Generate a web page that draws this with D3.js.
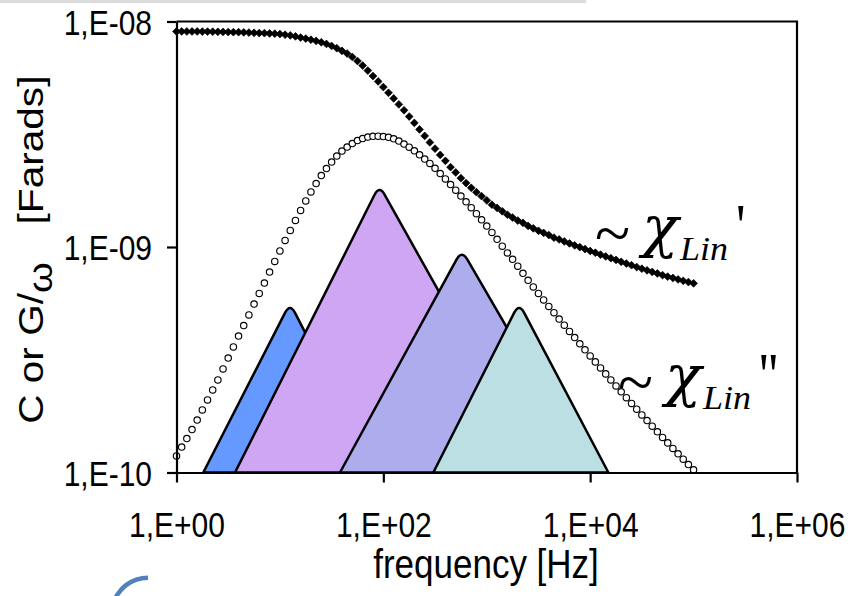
<!DOCTYPE html>
<html>
<head>
<meta charset="utf-8">
<script src="https://cdn.jsdelivr.net/npm/d3@7"></script>
<style>
  html, body { margin: 0; padding: 0; background: #fff; }
  svg { display: block; }
</style>
</head>
<body>
<svg id="chart" width="852" height="596"></svg>
<script>
// Measurement frequencies (20 points per decade, 1 Hz to 100 kHz)
const freqHz = [
  1, 1.122, 1.259, 1.413, 1.585, 1.778, 1.995, 2.239, 2.512, 2.818,
  3.162, 3.548, 3.981, 4.467, 5.012, 5.623, 6.310, 7.079, 7.943, 8.913,
  10, 11.22, 12.59, 14.13, 15.85, 17.78, 19.95, 22.39, 25.12, 28.18,
  31.62, 35.48, 39.81, 44.67, 50.12, 56.23, 63.10, 70.79, 79.43, 89.13,
  100, 112.2, 125.9, 141.3, 158.5, 177.8, 199.5, 223.9, 251.2, 281.8,
  316.2, 354.8, 398.1, 446.7, 501.2, 562.3, 631.0, 707.9, 794.3, 891.3,
  1000, 1122, 1259, 1413, 1585, 1778, 1995, 2239, 2512, 2818,
  3162, 3548, 3981, 4467, 5012, 5623, 6310, 7079, 7943, 8913,
  10000, 11220, 12590, 14130, 15850, 17780, 19950, 22390, 25120, 28180,
  31620, 35480, 39810, 44670, 50120, 56230, 63100, 70790, 79430, 89130,
  100000
];

// Capacitance C (~ chi_Lin'), Farads
const capacitanceC = [
  9.03e-9, 9.03e-9, 9.03e-9, 9.03e-9, 9.03e-9, 9.02e-9, 9.02e-9, 9.01e-9, 9.00e-9, 8.99e-9,
  8.98e-9, 8.97e-9, 8.97e-9, 8.95e-9, 8.93e-9, 8.91e-9, 8.89e-9, 8.88e-9, 8.85e-9, 8.83e-9,
  8.80e-9, 8.74e-9, 8.67e-9, 8.59e-9, 8.49e-9, 8.40e-9, 8.30e-9, 8.20e-9, 8.09e-9, 7.95e-9,
  7.79e-9, 7.61e-9, 7.41e-9, 7.21e-9, 6.96e-9, 6.68e-9, 6.38e-9, 6.06e-9, 5.73e-9, 5.42e-9,
  5.12e-9, 4.83e-9, 4.56e-9, 4.29e-9, 4.04e-9, 3.79e-9, 3.55e-9, 3.32e-9, 3.11e-9, 2.91e-9,
  2.73e-9, 2.56e-9, 2.41e-9, 2.26e-9, 2.14e-9, 2.02e-9, 1.92e-9, 1.83e-9, 1.75e-9, 1.68e-9,
  1.61e-9, 1.54e-9, 1.49e-9, 1.44e-9, 1.39e-9, 1.35e-9, 1.31e-9, 1.28e-9, 1.24e-9, 1.21e-9,
  1.18e-9, 1.155e-9, 1.13e-9, 1.10e-9, 1.08e-9, 1.058e-9, 1.037e-9, 1.017e-9, 9.98e-10, 9.79e-10,
  9.60e-10, 9.43e-10, 9.25e-10, 9.08e-10, 8.92e-10, 8.76e-10, 8.60e-10, 8.44e-10, 8.30e-10, 8.15e-10,
  8.01e-10, 7.88e-10, 7.75e-10, 7.63e-10, 7.50e-10, 7.39e-10, 7.29e-10, 7.18e-10, 7.08e-10, 6.99e-10,
  6.90e-10
];

// Conductance over angular frequency G/omega (~ chi_Lin''), Farads
const conductanceGw = [
  1.184e-10, 1.297e-10, 1.415e-10, 1.551e-10, 1.709e-10, 1.894e-10, 2.097e-10, 2.322e-10, 2.572e-10, 2.878e-10,
  3.219e-10, 3.602e-10, 4.030e-10, 4.486e-10, 4.994e-10, 5.587e-10, 6.221e-10, 6.923e-10, 7.747e-10, 8.626e-10,
  9.600e-10, 1.069e-9, 1.184e-9, 1.311e-9, 1.452e-9, 1.600e-9, 1.754e-9, 1.912e-9, 2.075e-9, 2.229e-9,
  2.381e-9, 2.532e-9, 2.665e-9, 2.776e-9, 2.877e-9, 2.966e-9, 3.027e-9, 3.074e-9, 3.096e-9, 3.099e-9,
  3.090e-9, 3.065e-9, 3.018e-9, 2.951e-9, 2.862e-9, 2.770e-9, 2.670e-9, 2.563e-9, 2.456e-9, 2.348e-9,
  2.234e-9, 2.118e-9, 2.003e-9, 1.893e-9, 1.786e-9, 1.683e-9, 1.587e-9, 1.494e-9, 1.405e-9, 1.320e-9,
  1.239e-9, 1.160e-9, 1.082e-9, 1.008e-9, 9.406e-10, 8.823e-10, 8.222e-10, 7.643e-10, 7.116e-10, 6.647e-10,
  6.221e-10, 5.821e-10, 5.452e-10, 5.111e-10, 4.793e-10, 4.499e-10, 4.223e-10, 3.965e-10, 3.722e-10, 3.500e-10,
  3.289e-10, 3.094e-10, 2.909e-10, 2.737e-10, 2.574e-10, 2.421e-10, 2.279e-10, 2.147e-10, 2.023e-10, 1.909e-10,
  1.800e-10, 1.699e-10, 1.604e-10, 1.515e-10, 1.431e-10, 1.353e-10, 1.279e-10, 1.210e-10, 1.146e-10, 1.085e-10,
  1.028e-10
];

// Schematic relaxation modes: low edge, peak and high edge frequency (Hz), peak height (F)
const modeLowHz  = [1.816, 3.68, 38.1, 304.5];
const modePeakHz = [12.52, 91.5, 573, 2053];
const modeHighHz = [86.9, 3281, 10200, 15000];
const modePeakF  = [5.64e-10, 1.88e-9, 9.70e-10, 5.64e-10];
const modeFill   = ["#6699ff", "#cfa6f4", "#adaded", "#bbdfe3"];

const xTickValues = [1, 1e2, 1e4, 1e6];
const yTickValues = [1e-10, 1e-9, 1e-8];
const xTitle = "frequency [Hz]";

const SY = 1.16; // vertical stretch of the lettering
const svg = d3.select("#chart");

const x = d3.scaleLog().domain([1, 1e6]).range([176.5, 797]);
const y = d3.scaleLog().domain([1e-10, 1e-8]).range([472.5, 21.5]);

function expLabel(v) {
  const e = Math.round(Math.log10(v));
  return "1,E" + (e < 0 ? "-" : "+") + String(Math.abs(e)).padStart(2, "0");
}

// thin grey rule along the top edge and the blue arc at the bottom left
svg.append("rect").attr("x", 0).attr("y", 0).attr("width", 586).attr("height", 3)
  .attr("fill", "#dcdcdc");
svg.append("path")
  .attr("transform", "translate(148,614)")
  .attr("d", d3.arc().innerRadius(34).outerRadius(38.5).startAngle(-1.3).endAngle(0)())
  .attr("fill", "#4f81bd");

// relaxation-mode peaks with rounded tops
const plot = svg.append("g");
const ROUND = 11;
modePeakHz.forEach((pk, i) => {
  const bl = [x(modeLowHz[i]), y(1e-10)];
  const ap = [x(pk), y(modePeakF[i])];
  const br = [x(modeHighHz[i]), y(1e-10)];
  const towards = (a, b, d) => {
    const dx = b[0] - a[0], dy = b[1] - a[1], L = Math.hypot(dx, dy);
    return [a[0] + dx * d / L, a[1] + dy * d / L];
  };
  const p1 = towards(ap, bl, ROUND);
  const p2 = towards(ap, br, ROUND);
  const path = d3.path();
  path.moveTo(bl[0], bl[1]);
  path.lineTo(p1[0], p1[1]);
  path.quadraticCurveTo(ap[0], ap[1], p2[0], p2[1]);
  path.lineTo(br[0], br[1]);
  path.closePath();
  plot.append("path").attr("d", path.toString())
    .attr("fill", modeFill[i]).attr("stroke", "#000")
    .attr("stroke-width", 2.5).attr("stroke-linejoin", "round");
});

// G/omega: open circles
plot.append("g").selectAll("circle")
  .data(freqHz.map((f, i) => [f, conductanceGw[i]]))
  .join("circle")
  .attr("cx", d => x(d[0])).attr("cy", d => y(d[1])).attr("r", 3.2)
  .attr("fill", "#fff").attr("stroke", "#000").attr("stroke-width", 1.15);

// C: filled diamonds
const diamond = d3.symbol(d3.symbolSquare, 30)();
plot.append("g").selectAll("path")
  .data(freqHz.map((f, i) => [f, capacitanceC[i]]))
  .join("path")
  .attr("d", diamond)
  .attr("transform", d => `translate(${x(d[0])},${y(d[1])}) rotate(45)`)
  .attr("fill", "#000").attr("stroke", "#000").attr("stroke-width", 0.7);

// axes
const font = "'Liberation Sans', Arial, sans-serif";
const gx = svg.append("g")
  .attr("transform", `translate(0,${y(1e-10)})`)
  .call(d3.axisBottom(x).tickValues(xTickValues).tickFormat(expLabel).tickSize(10).tickSizeOuter(0));
const gy = svg.append("g")
  .attr("transform", `translate(${x(1)},0)`)
  .call(d3.axisLeft(y).tickValues(yTickValues).tickFormat(expLabel).tickSize(9.5).tickSizeOuter(0));
[gx, gy].forEach(g => {
  g.attr("font-family", font).attr("font-size", 30);
  g.select(".domain").attr("stroke", "#000").attr("stroke-width", 2.2);
  g.selectAll(".tick line").attr("stroke", "#000").attr("stroke-width", 2.2);
  g.selectAll(".tick text").attr("fill", "#000").attr("dy", null);
});
gx.selectAll(".tick text").attr("y", 0).attr("transform", `translate(0,64.5) scale(1,${SY})`);
gy.selectAll(".tick text").attr("x", 0).attr("transform", `translate(-24.5,12.5) scale(1,${SY})`);

// frame top and right
svg.append("path")
  .attr("d", `M${x(1)},${y(1e-8)}H${x(1e6)}V${y(1e-10)}`)
  .attr("fill", "none").attr("stroke", "#000").attr("stroke-width", 2.2);

// axis titles
svg.append("text")
  .attr("transform", `translate(486,578) scale(1,${SY})`)
  .attr("text-anchor", "middle").attr("font-family", font).attr("font-size", 35)
  .text(xTitle);

const yt = svg.append("text")
  .attr("transform", `translate(43,343) rotate(-90) scale(${SY},1)`)
  .attr("text-anchor", "middle").attr("font-family", font).attr("font-size", 35);
yt.append("tspan").text("C or G/");
yt.append("tspan").attr("font-size", 34).attr("dy", 9).text("ω");
svg.append("text")
  .attr("transform", `translate(43,150) rotate(-90) scale(${SY},1)`)
  .attr("text-anchor", "middle").attr("font-family", font).attr("font-size", 35)
  .text("[Farads]");

// curve annotations
const serif = "'Liberation Serif', 'Times New Roman', serif";
function chiLabel(px, py, primes) {
  const g = svg.append("g").attr("fill", "#000");
  const put = (dx, dy, sx, sy, size, family, italic, str) =>
    g.append("text")
      .attr("transform", `translate(${px + dx},${py + dy}) scale(${sx},${sy})`)
      .attr("font-family", family).attr("font-size", size)
      .attr("font-style", italic ? "italic" : "normal")
      .text(str);
  put(0, 9, 1.2, SY, 54, serif, false, "~");
  put(47, 0, 1.25, SY, 48, "'DejaVu Serif', serif", true, "χ");
  put(85, 14, 1, 0.92, 36, serif, true, "Lin");
  put(141, 0, 1, SY, 53, serif, false, primes);
}
chiLabel(595, 246, "'");
chiLabel(618, 395, "''");
</script>
</body>
</html>
